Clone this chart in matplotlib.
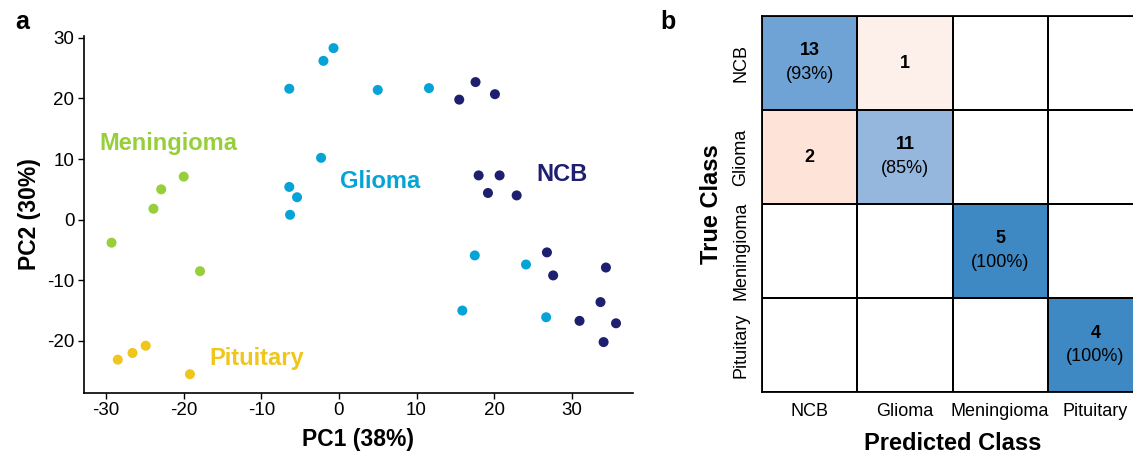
import numpy as np
import matplotlib
matplotlib.use("Agg")
import matplotlib.pyplot as plt
from matplotlib.colors import LinearSegmentedColormap

plt.rcParams['font.family'] = ['Liberation Sans', 'DejaVu Sans']
plt.rcParams['axes.unicode_minus'] = False

# ---------------- data: PCA scores ----------------
ncb_x = [17.6, 15.5, 20.1, 18.0, 20.7, 19.2, 22.9, 26.8, 27.6, 34.4, 33.7, 31.0, 35.7, 34.1]
ncb_y = [22.7, 19.8, 20.7, 7.3, 7.3, 4.4, 4.0, -5.4, -9.2, -7.9, -13.6, -16.7, -17.1, -20.2]
glioma_x = [-0.7, -2.0, -6.4, 5.0, 11.6, -2.3, -6.4, -5.4, -6.3, 17.5, 24.1, 15.9, 26.7]
glioma_y = [28.3, 26.2, 21.6, 21.4, 21.7, 10.2, 5.4, 3.7, 0.8, -5.9, -7.4, -15.0, -16.1]
menin_x = [-20.0, -22.9, -23.9, -29.3, -17.9]
menin_y = [7.1, 5.0, 1.8, -3.8, -8.5]
pit_x = [-28.5, -26.6, -24.9, -19.2]
pit_y = [-23.1, -22.0, -20.8, -25.5]

group_names = ['NCB', 'Glioma', 'Meningioma', 'Pituitary']
group_colors = ['#1e1f6e', '#06a3d6', '#97cf3a', '#f0c51c']
label_pos = [(28.7, 7.4), (5.3, 6.3), (-22.0, 12.6), (-10.6, -22.9)]

x_ticks = [-30, -20, -10, 0, 10, 20, 30]
y_ticks = [-20, -10, 0, 10, 20, 30]

# ---------------- data: confusion matrix ----------------
classes = ['NCB', 'Glioma', 'Meningioma', 'Pituitary']
conf = np.array([[13, 1, 0, 0],
                 [2, 11, 0, 0],
                 [0, 0, 5, 0],
                 [0, 0, 0, 4]])

W, H = 1133, 453
fig = plt.figure(figsize=(W / 100, H / 100), dpi=100)

# ---------------- panel a ----------------
axL, axR, axT, axB = 84, 632.7, 36, 392.7
ax = fig.add_axes([axL / W, 1 - axB / H, (axR - axL) / W, (axB - axT) / H])
series = [(ncb_x, ncb_y), (glioma_x, glioma_y), (menin_x, menin_y), (pit_x, pit_y)]
for (xs, ys), c in zip(series, group_colors):
    ax.scatter(xs, ys, s=52, color=c, edgecolors='none', zorder=3)
for name, c, (lx, ly) in zip(group_names, group_colors, label_pos):
    ax.text(lx, ly, name, color=c, fontsize=17, fontweight='bold', ha='center', va='center')
ax.set_xlim(-32.85, 37.85)
ax.set_ylim(-28.55, 30.3)
ax.set_xticks(x_ticks)
ax.set_yticks(y_ticks)
ax.tick_params(axis='both', direction='out', length=4, width=1, labelsize=13.5, pad=3)
for s in ['top', 'right']:
    ax.spines[s].set_visible(False)
for s in ['left', 'bottom']:
    ax.spines[s].set_linewidth(1.2)
ax.set_xlabel('PC1 (38%)', fontsize=16.5, fontweight='bold', labelpad=6)
ax.set_ylabel('PC2 (30%)', fontsize=16.5, fontweight='bold', labelpad=4)

# ---------------- panel b ----------------
bL, bR, bT, bB = 762, 1143, 16, 392.3
bx = fig.add_axes([bL / W, 1 - bB / H, (bR - bL) / W, (bB - bT) / H])
row_tot = conf.sum(axis=1, keepdims=True)
frac = conf / row_tot
n = len(classes)
diag_mask = np.eye(n, dtype=bool)
blue = LinearSegmentedColormap.from_list('b', [(0, '#ffffff'), (0.85, '#95b7dd'), (0.93, '#6fa3d5'), (1.0, '#3e89c4')])
red = LinearSegmentedColormap.from_list('r', [(0, '#ffffff'), (0.07, '#fdefea'), (0.15, '#fde3d9'), (1.0, '#e05a40')])
edges = np.arange(n + 1)
bx.pcolormesh(edges, edges, np.zeros_like(frac), cmap=blue, vmin=0, vmax=1,
              edgecolors='black', linewidth=1.3)
bx.pcolormesh(edges, edges, np.ma.masked_where(~diag_mask | (conf == 0), frac), cmap=blue,
              vmin=0, vmax=1, edgecolors='black', linewidth=1.3)
bx.pcolormesh(edges, edges, np.ma.masked_where(diag_mask | (conf == 0), frac), cmap=red,
              vmin=0, vmax=1, edgecolors='black', linewidth=1.3)
for i in range(n):
    for j in range(n):
        if conf[i, j] == 0:
            continue
        if i == j:
            bx.text(j + 0.5, i + 0.37, str(conf[i, j]), ha='center', va='center',
                    fontsize=13, fontweight='bold')
            bx.text(j + 0.5, i + 0.62, f'({round(frac[i, j] * 100)}%)', ha='center', va='center',
                    fontsize=13)
        else:
            bx.text(j + 0.5, i + 0.5, str(conf[i, j]), ha='center', va='center',
                    fontsize=13, fontweight='bold')
bx.set_xlim(0, n)
bx.set_ylim(n, 0)
bx.set_xticks(np.arange(n) + 0.5)
bx.set_yticks(np.arange(n) + 0.5)
bx.set_xticklabels(classes, fontsize=13)
bx.set_yticklabels(classes, fontsize=13, rotation=90, va='center')
bx.tick_params(length=0, pad=8)
bx.tick_params(axis='y', pad=9)
for s in bx.spines.values():
    s.set_linewidth(1.3)
bx.set_xlabel('Predicted Class', fontsize=17, fontweight='bold', labelpad=8)
bx.set_ylabel('True Class', fontsize=17, fontweight='bold', labelpad=7)

fig.text(22 / W, 1 - 22 / H, 'a', fontsize=18, fontweight='bold', ha='center', va='center')
fig.text(668 / W, 1 - 22 / H, 'b', fontsize=18, fontweight='bold', ha='center', va='center')

fig.savefig('out.png', dpi=100)
